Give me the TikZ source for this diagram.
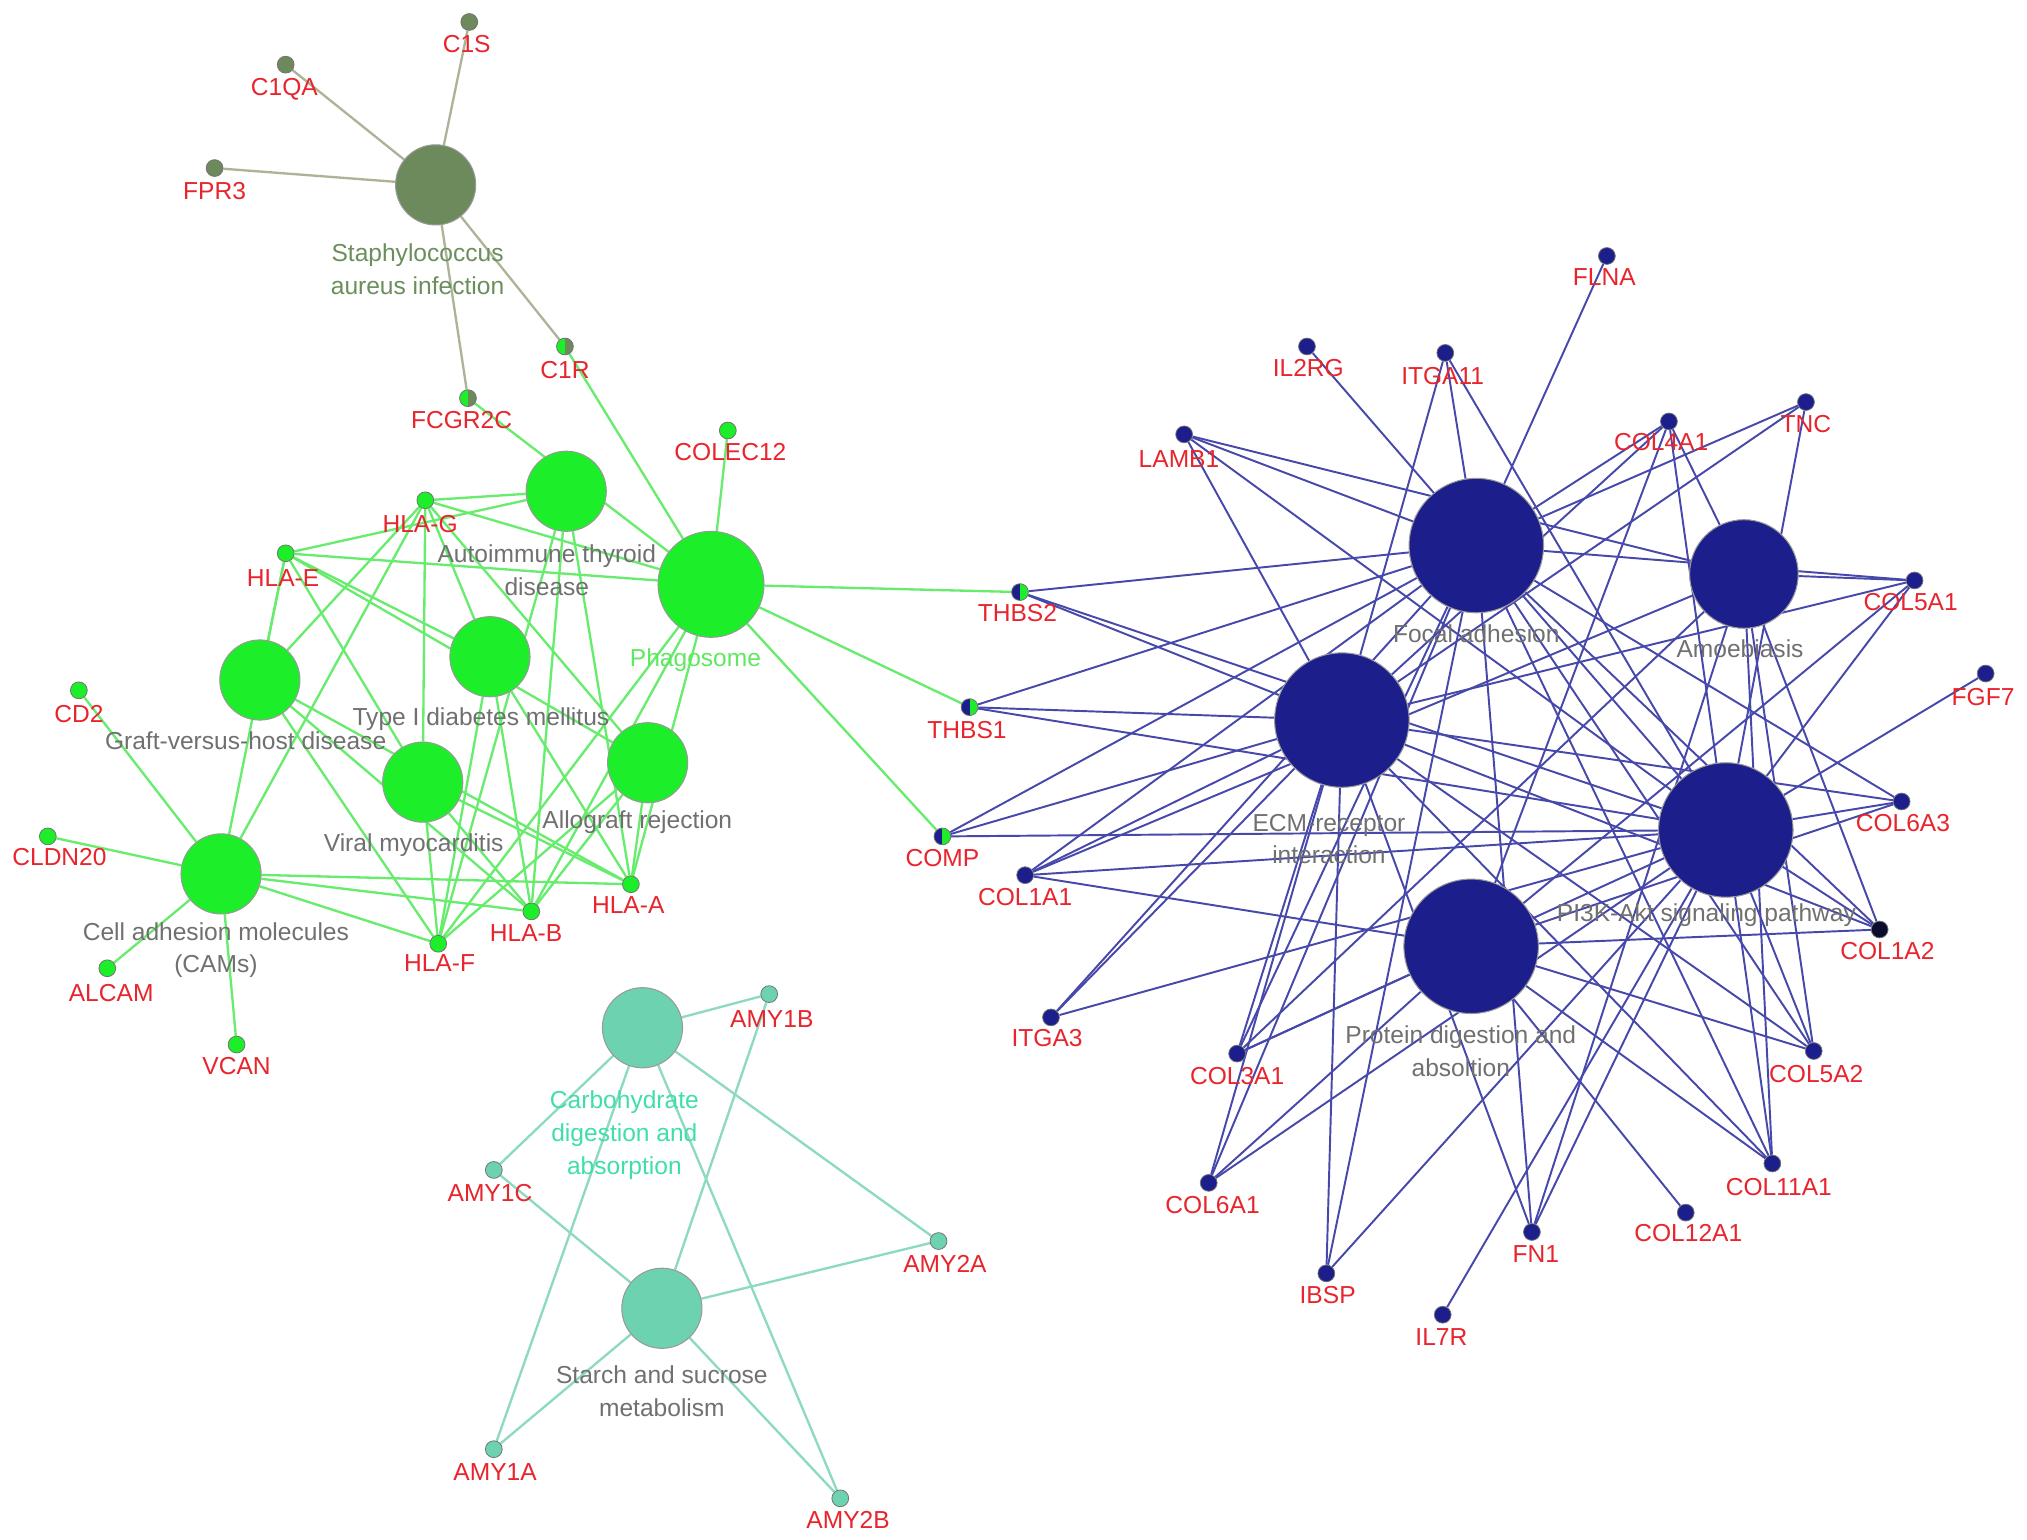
\documentclass[tikz,border=0pt]{standalone}
\usepackage{fontspec}
\setmainfont{Liberation Sans}
\usetikzlibrary{backgrounds}
\pgfdeclarelayer{paper}
\pgfsetlayers{paper,background,main}
\definecolor{gred}{RGB}{232,36,44}
\definecolor{hgray}{RGB}{112,112,112}
\definecolor{mnavy}{RGB}{28,30,140}
\definecolor{bedgec}{RGB}{70,72,170}
\definecolor{lgreen}{RGB}{28,238,42}
\definecolor{gedgec}{RGB}{104,236,110}
\definecolor{mteal}{RGB}{108,210,176}
\definecolor{tedgec}{RGB}{140,218,192}
\definecolor{molive}{RGB}{108,138,92}
\definecolor{oedgec}{RGB}{172,180,152}
\definecolor{phalab}{RGB}{96,232,96}
\definecolor{carblab}{RGB}{64,222,172}
\definecolor{stalab}{RGB}{108,142,92}
\definecolor{darkdot}{RGB}{12,12,44}
\newcommand\mygfont{\fontsize{9.5}{11}\selectfont}
\newcommand\myhfont{\fontsize{9.5}{12.7}\selectfont}
\tikzset{
  gene/.style={circle, inner sep=0pt, minimum size=6.5pt, draw=black!55, line width=0.3pt},
  hub/.style={circle, inner sep=0pt, draw=black!40, line width=0.4pt},
  halfpie/.style 2 args={gene, fill=#2, path picture={\fill[#1] (path picture bounding box.south west) rectangle (path picture bounding box.north);}},
  glab/.style={text=gred, font=\mygfont, inner sep=0pt},
  hlab/.style={text=hgray, font=\myhfont, align=center, inner sep=0pt},
  bedge/.style={draw=bedgec, line width=0.75pt},
  gedge/.style={draw=gedgec, line width=0.9pt},
  tedge/.style={draw=tedgec, line width=0.9pt},
  oedge/.style={draw=oedgec, line width=0.9pt}
}
% name, x, y, style, label x, label y, text
\newcommand\gene[7]{\node[gene,#4] (#1) at (#2,#3) {}; \node[glab] (#1l) at (#5,#6) {#7};}
\begin{document}
\begin{tikzpicture}[x=0.5pt,y=-0.5pt]
\useasboundingbox (0,0) rectangle (1568,1191);
\begin{pgfonlayer}{paper}
\fill[white] (0,0) rectangle (1568,1191);
\end{pgfonlayer}

% ---------- hubs ----------
\node[hub, fill=molive, minimum size=31pt] (STA) at (337,143) {};
\node[hub, fill=lgreen, minimum size=31pt] (ATD) at (438,380) {};
\node[hub, fill=lgreen, minimum size=41pt] (PHA) at (550,452) {};
\node[hub, fill=lgreen, minimum size=31pt] (T1D) at (379,508) {};
\node[hub, fill=lgreen, minimum size=31pt] (GVH) at (201,526) {};
\node[hub, fill=lgreen, minimum size=31pt] (VMC) at (327,605) {};
\node[hub, fill=lgreen, minimum size=31pt] (ALR) at (501,590) {};
\node[hub, fill=lgreen, minimum size=31pt] (CAM) at (171,676) {};
\node[hub, fill=mteal, minimum size=31pt] (CARB) at (497,795) {};
\node[hub, fill=mteal, minimum size=31pt] (STAR) at (512,1012) {};
\node[hub, fill=mnavy, minimum size=52pt] (FA) at (1142,422) {};
\node[hub, fill=mnavy, minimum size=42pt] (AM) at (1349,444) {};
\node[hub, fill=mnavy, minimum size=52pt] (ECM) at (1038,557) {};
\node[hub, fill=mnavy, minimum size=52pt] (PI3K) at (1335,642) {};
\node[hub, fill=mnavy, minimum size=52pt] (PD) at (1138,732) {};

% ---------- genes ----------
\gene{C1S}{363}{17}{fill=molive}{361}{34}{C1S}
\gene{C1QA}{221}{50}{fill=molive}{220}{69}{C1QA}
\gene{FPR3}{166}{130}{fill=molive}{166}{148}{FPR3}
\gene{C1R}{437}{268}{halfpie={lgreen}{molive}}{437}{286}{C1R}
\gene{FCGR2C}{362}{308}{halfpie={lgreen}{molive}}{357}{325}{FCGR2C}

\gene{COLEC12}{563}{333}{fill=lgreen}{565}{350}{COLEC12}
\gene{HLAG}{329}{387}{fill=lgreen}{325}{405}{HLA-G}
\gene{HLAE}{221}{428}{fill=lgreen}{219}{447}{HLA-E}
\gene{CD2}{61}{534}{fill=lgreen}{61}{552}{CD2}
\gene{CLDN20}{37}{647}{fill=lgreen}{46}{663}{CLDN20}
\gene{ALCAM}{83}{749}{fill=lgreen}{86}{768}{ALCAM}
\gene{VCAN}{183}{808}{fill=lgreen}{183}{825}{VCAN}
\gene{HLAF}{339}{730}{fill=lgreen}{340}{745}{HLA-F}
\gene{HLAB}{411}{705}{fill=lgreen}{407}{722}{HLA-B}
\gene{HLAA}{488}{684}{fill=lgreen}{486}{700}{HLA-A}

\gene{THBS2}{789}{458}{halfpie={mnavy}{lgreen}}{787}{474}{THBS2}
\gene{THBS1}{750}{547}{halfpie={mnavy}{lgreen}}{748}{565}{THBS1}
\gene{COMP}{729}{647}{halfpie={mnavy}{lgreen}}{729}{664}{COMP}

\gene{FLNA}{1243}{198}{fill=mnavy}{1241}{214}{FLNA}
\gene{IL2RG}{1011}{268}{fill=mnavy}{1012}{285}{IL2RG}
\gene{ITGA11}{1118}{273}{fill=mnavy}{1116}{291}{ITGA11}
\gene{LAMB1}{916}{336}{fill=mnavy}{912}{355}{LAMB1}
\gene{COL4A1}{1291}{326}{fill=mnavy}{1285}{342}{COL4A1}
\gene{TNC}{1397}{311}{fill=mnavy}{1397}{328}{TNC}
\gene{COL5A1}{1481}{449}{fill=mnavy}{1478}{466}{COL5A1}
\gene{FGF7}{1536}{521}{fill=mnavy}{1534}{539}{FGF7}
\gene{COL6A3}{1471}{620}{fill=mnavy}{1472}{637}{COL6A3}
\gene{COL1A2}{1454}{719}{fill=darkdot}{1460}{736}{COL1A2}
\gene{COL5A2}{1403}{813}{fill=mnavy}{1405}{831}{COL5A2}
\gene{COL11A1}{1371}{900}{fill=mnavy}{1376}{918}{COL11A1}
\gene{COL12A1}{1304}{938}{fill=mnavy}{1306}{954}{COL12A1}
\gene{FN1}{1185}{953}{fill=mnavy}{1188}{970}{FN1}
\gene{IL7R}{1116}{1017}{fill=mnavy}{1115}{1034}{IL7R}
\gene{IBSP}{1026}{985}{fill=mnavy}{1027}{1002}{IBSP}
\gene{COL6A1}{935}{915}{fill=mnavy}{938}{932}{COL6A1}
\gene{COL3A1}{957}{815}{fill=mnavy}{957}{832}{COL3A1}
\gene{ITGA3}{813}{787}{fill=mnavy}{810}{803}{ITGA3}
\gene{COL1A1}{793}{677}{fill=mnavy}{793}{694}{COL1A1}

\gene{AMY1B}{595}{769}{fill=mteal}{597}{788}{AMY1B}
\gene{AMY1C}{382}{905}{fill=mteal}{379}{923}{AMY1C}
\gene{AMY2A}{726}{960}{fill=mteal}{731}{978}{AMY2A}
\gene{AMY1A}{382}{1121}{fill=mteal}{383}{1139}{AMY1A}
\gene{AMY2B}{650}{1159}{fill=mteal}{656}{1176}{AMY2B}

% ---------- hub labels ----------
\node[hlab, text=stalab] (STAl) at (323,208) {Staphylococcus\\aureus infection};
\node[hlab] (ATDl) at (423,441) {Autoimmune thyroid\\disease};
\node[hlab, text=phalab] (PHAl) at (538,511) {Phagosome};
\node[hlab] (T1Dl) at (372,556) {Type I diabetes mellitus};
\node[hlab] (GVHl) at (190,573) {Graft-versus-host disease};
\node[hlab] (VMCl) at (320,654) {Viral myocarditis};
\node[hlab] (ALRl) at (493,636) {Allograft rejection};
\node[hlab] (CAMl) at (167,735) {Cell adhesion molecules\\(CAMs)};
\node[hlab, text=carblab] (CARBl) at (483,878) {Carbohydrate\\digestion and\\absorption};
\node[hlab] (STARl) at (512,1076) {Starch and sucrose\\metabolism};
\node[hlab] (FAl) at (1142,490) {Focal adhesion};
\node[hlab] (AMl) at (1346,502) {Amoebiasis};
\node[hlab] (ECMl) at (1028,649) {ECM-receptor\\interaction};
\node[hlab] (PI3Kl) at (1320,708) {PI3K-Akt signaling pathway};
\node[hlab] (PDl) at (1130,813) {Protein digestion and\\absoltion};

% ---------- edges ----------
\begin{scope}[on background layer]
\foreach \g in {C1S,C1QA,FPR3,C1R,FCGR2C} \draw[oedge] (STA) -- (\g);
\foreach \h in {ATD,PHA,T1D,GVH,VMC,ALR,CAM}
  \foreach \g in {HLAA,HLAB,HLAE,HLAF,HLAG} \draw[gedge] (\h) -- (\g);
\foreach \g in {CD2,CLDN20,ALCAM,VCAN} \draw[gedge] (CAM) -- (\g);
\foreach \g in {COLEC12,C1R,FCGR2C,THBS2,THBS1,COMP} \draw[gedge] (PHA) -- (\g);
\foreach \h in {CARB,STAR}
  \foreach \g in {AMY1A,AMY1B,AMY1C,AMY2A,AMY2B} \draw[tedge] (\h) -- (\g);
\foreach \g in {COL1A1,COL1A2,COL3A1,COL4A1,COL5A1,COL5A2,COL6A1,COL6A3,COL11A1,COMP,FLNA,FN1,IBSP,ITGA11,ITGA3,LAMB1,THBS1,THBS2,TNC} \draw[bedge] (FA) -- (\g);
\foreach \g in {COL1A1,COL1A2,COL3A1,COL4A1,COL5A1,COL5A2,COL6A1,COL6A3,COL11A1,COMP,FN1,IBSP,ITGA11,ITGA3,LAMB1,THBS1,THBS2,TNC} \draw[bedge] (ECM) -- (\g);
\foreach \g in {COL1A1,COL1A2,COL3A1,COL4A1,COL5A1,COL5A2,COL6A1,COL6A3,COL11A1,COMP,FGF7,FN1,IBSP,IL2RG,IL7R,ITGA11,ITGA3,LAMB1,THBS1,THBS2,TNC} \draw[bedge] (PI3K) -- (\g);
\foreach \g in {COL1A1,COL1A2,COL3A1,COL4A1,COL5A1,COL5A2,COL11A1,FN1,LAMB1} \draw[bedge] (AM) -- (\g);
\foreach \g in {COL1A1,COL1A2,COL3A1,COL4A1,COL5A1,COL5A2,COL6A1,COL6A3,COL11A1,COL12A1} \draw[bedge] (PD) -- (\g);
\end{scope}
\end{tikzpicture}
\end{document}
